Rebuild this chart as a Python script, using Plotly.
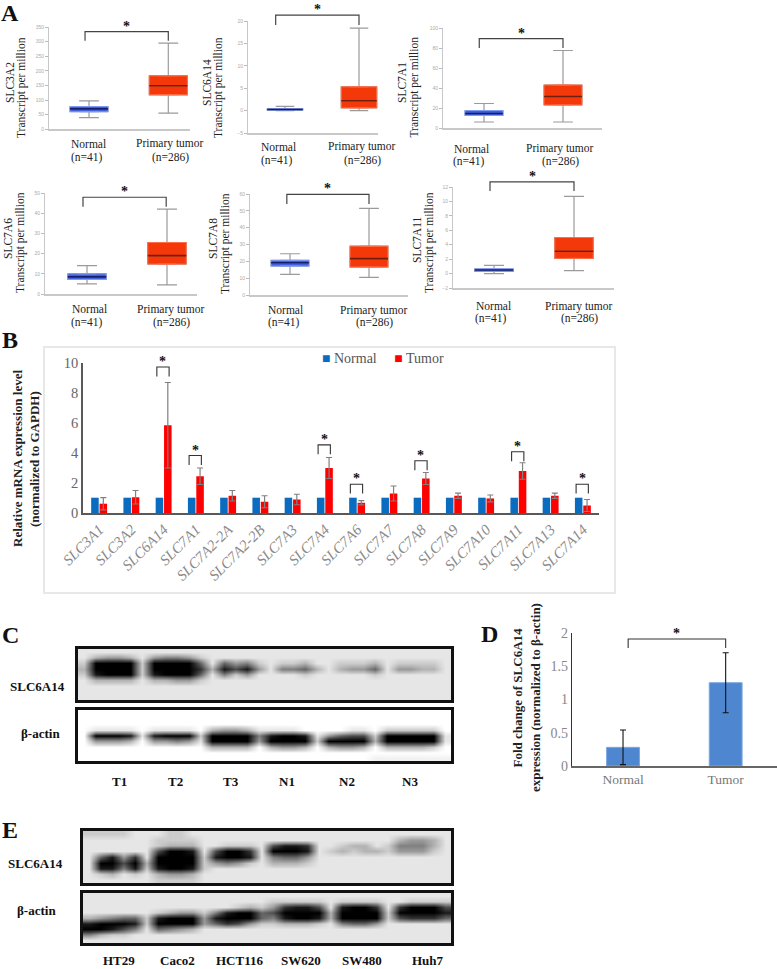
import plotly.graph_objects as go

W, H = 777, 969
SERIF = "Liberation Serif"

# ---------- Panel A data: [lower whisker, q1, median, q3, upper whisker] ----------
SLC3A2_NORMAL = [40, 60, 70, 78, 97]
SLC3A2_TUMOR = [55, 118, 149, 183, 295]
SLC6A14_NORMAL = [0.0, 0.12, 0.25, 0.4, 0.95]
SLC6A14_TUMOR = [0.0, 0.6, 2.2, 5.3, 18.4]
SLC7A1_NORMAL = [6, 12.5, 14.5, 17.5, 24.5]
SLC7A1_TUMOR = [6, 23, 31.5, 43, 77.5]
SLC7A6_NORMAL = [5, 7.2, 8.5, 10, 14]
SLC7A6_TUMOR = [4.5, 14.8, 19, 25.5, 42]
SLC7A8_NORMAL = [12.3, 17.2, 19.2, 20.6, 24.5]
SLC7A8_TUMOR = [10.5, 16.6, 21.6, 29, 51.5]
SLC7A11_NORMAL = [0.0, 0.3, 0.5, 0.65, 1.15]
SLC7A11_TUMOR = [0.4, 2.1, 3.1, 5.0, 10.7]
A_TICKS = {
    "SLC3A2": [0, 50, 100, 150, 200, 250, 300, 350],
    "SLC6A14": [-5, 0, 5, 10, 15, 20],
    "SLC7A1": [0, 20, 40, 60, 80, 100],
    "SLC7A6": [0, 10, 20, 30, 40, 50],
    "SLC7A8": [0, 10, 20, 30, 40, 50, 60],
    "SLC7A11": [-2, 0, 2, 4, 6, 8, 10, 12],
}
# bracket [x start, x end, foot value, top value]
A_BRACKETS = {
    "SLC3A2": [-0.05, 1.0, 303, 334],
    "SLC6A14": [-0.126, 1.0, 19.1, 21.3],
    "SLC7A1": [-0.06, 1.0, 80, 89.3],
    "SLC7A6": [-0.05, 0.99, 43.2, 47.9],
    "SLC7A8": [-0.04, 1.0, 54, 59.8],
    "SLC7A11": [-0.05, 1.0, 11.45, 12.7],
}
GROUP_NORMAL = ["Normal", "(n=41)"]
GROUP_TUMOR = ["Primary tumor", "(n=286)"]
A_YLABEL = "Transcript per million"

# ---------- Panel B data ----------
GENES = ["SLC3A1", "SLC3A2", "SLC6A14", "SLC7A1", "SLC7A2-2A", "SLC7A2-2B", "SLC7A3", "SLC7A4",
         "SLC7A6", "SLC7A7", "SLC7A8", "SLC7A9", "SLC7A10", "SLC7A11", "SLC7A13", "SLC7A14"]
B_NORMAL = [1.02] * 16
B_TUMOR = [0.62, 1.05, 5.85, 2.45, 1.15, 0.75, 0.9, 3.0, 0.68, 1.3, 2.3, 1.15, 0.97, 2.8, 1.15, 0.5]
B_TUMOR_ERR = [0.41, 0.45, 2.85, 0.55, 0.35, 0.4, 0.35, 0.7, 0.14, 0.5, 0.4, 0.18, 0.23, 0.55, 0.18, 0.4]
B_SIG = [2, 3, 7, 8, 10, 13, 15]
B_SIG_TOP = [9.73, 3.83, 4.54, 1.92, 3.48, 4.08, 1.92]

# ---------- Panel D data ----------
D_GROUPS = ["Normal", "Tumor"]
D_VALUES = [0.28, 1.25]
D_ERR = [0.26, 0.45]
D_BRACKET = [0.05, 1.0, 1.77, 1.905]

# ---------- Blot densitometry (0 = white, 10 = black) ----------
BLOT_C_TARGET = [
    [1,1,1,1,1,1,1,1,1,1,1,1,1,1,1,1,1,1,1,1,1,1,1,1,1,1,1,1,1,1,1,1],
    [1,3,4,4,3,1,4,5,5,4,2,1,1,1,1,1,1,1,1,1,1,1,1,1,1,1,1,1,1,1,1,1],
    [2,10,10,10,10,2,10,10,10,10,6,1,6,4,5,2,1,2,2,3,1,1,2,2,2,3,1,2,2,2,2,1],
    [3,10,10,10,10,2,10,10,10,10,8,3,9,7,9,4,1,5,5,6,3,1,3,4,4,6,1,4,4,3,3,1],
    [2,9,10,10,10,2,9,10,10,10,6,1,5,2,4,1,1,1,1,2,1,1,1,1,1,2,1,1,1,1,1,1],
    [1,3,3,3,3,1,3,3,4,4,2,1,1,1,1,1,1,1,1,1,1,1,1,1,1,1,1,1,1,1,1,1],
    [1,1,1,1,1,1,1,1,1,1,1,1,1,1,1,1,1,1,1,1,1,1,1,1,1,1,1,1,1,1,1,1],
    [1,1,1,1,1,1,1,1,1,1,1,1,1,1,1,1,1,1,1,1,1,1,1,1,1,1,1,1,1,1,1,1],
    [1,1,1,1,1,1,1,1,1,1,1,1,1,1,1,1,1,1,1,1,1,1,1,1,1,1,1,1,1,1,1,1],
]
BLOT_C_ACTIN = [
    [0,0,0,0,0,0,0,0,0,0,0,0,0,0,0,0,0,0,0,0,0,0,0,0,0,0,0,0,0,0,0,0],
    [0,0,0,0,0,0,0,0,0,0,0,0,0,0,0,0,0,0,0,0,0,0,0,0,0,0,0,0,0,0,0,0],
    [0,0,0,0,0,0,0,0,0,0,0,0,0,0,0,0,0,0,0,0,0,0,0,0,0,0,0,0,0,0,0,0],
    [0,1,1,1,1,0,1,1,1,1,0,3,4,4,3,1,1,1,1,0,0,0,0,1,1,0,2,2,2,2,2,0],
    [0,10,10,10,9,1,9,10,10,10,2,10,10,10,10,5,9,10,10,9,1,4,6,7,7,2,10,10,10,10,10,1],
    [0,4,4,4,3,0,4,4,5,4,1,10,10,10,10,4,10,10,10,10,2,10,10,10,10,3,10,10,10,10,10,1],
    [0,0,0,0,0,0,0,0,0,0,0,3,3,3,3,0,3,4,4,3,0,3,4,4,3,0,3,3,3,3,2,0],
    [0,0,0,0,0,0,0,0,0,0,0,0,0,0,0,0,0,0,0,0,0,0,0,0,0,0,0,0,0,0,0,0],
    [0,0,0,0,0,0,0,0,0,0,0,0,0,0,0,0,0,0,0,0,0,0,0,0,0,0.5,0.5,0.5,0.5,0.5,0.5,0.5],
]
BLOT_E_TARGET = [
    [2,2,2,2,1,1,1,2,2,1,1,1,1,1,1,1,1,1,1,1,1,1,1,1,1,1,1,1,1,1,1,1],
    [1,1,1,1,1,1,2,2,2,2,1,1,1,1,1,1,1,1,1,1,1,1,1,1,1,1,1,3,4,4,3,1],
    [1,1,1,1,1,1,2,3,3,3,1,1,2,2,2,1,7,9,9,8,1,1,2,3,3,1,2,5,5,5,3,1],
    [1,1,1,1,1,1,7,10,10,9,1,7,10,10,8,1,10,10,10,9,1,2,3,2,3,3,2,4,4,4,2,1],
    [1,6,9,4,8,1,10,10,10,10,2,9,10,10,9,1,5,6,6,4,1,1,1,1,1,1,1,1,1,1,1,1],
    [1,10,10,7,10,3,10,10,10,10,2,4,5,4,2,1,3,3,3,2,1,1,1,1,1,1,1,1,1,1,1,1],
    [1,9,9,5,9,2,9,10,10,9,2,1,1,1,1,1,1,1,1,1,1,1,1,1,1,1,1,1,1,1,1,1],
    [1,2,3,1,2,1,3,4,4,3,1,1,1,1,1,1,1,1,1,1,1,1,1,1,1,1,1,1,1,1,1,1],
    [1,1,1,1,1,1,2,2,2,2,1,1,1,1,1,1,1,1,1,1,1,1,1,1,1,1,1,1,1,1,1,1],
]
BLOT_E_ACTIN = [
    [1,1,1,1,1,1,1,1,1,1,1,1,1,1,1,1,1,1,1,1,1,1,1,1,1,1,1,1,1,1,1,1],
    [1,1,1,1,1,1,1,1,1,1,1,1,1,1,1,1,2,2,2,2,2,1,2,2,2,2,1,1,2,2,2,2],
    [1,1,1,1,1,1,1,1,1,1,1,1,1,2,3,2,4,8,9,9,7,1,9,10,10,8,1,8,10,10,10,7],
    [1,1,1,1,1,1,2,3,4,4,2,5,9,10,10,6,7,10,10,10,10,3,10,10,10,10,2,10,10,10,10,9],
    [3,4,5,6,6,2,9,10,10,10,4,9,10,10,10,6,5,9,10,10,9,3,10,10,10,10,2,7,8,8,8,6],
    [9,10,10,10,9,2,10,10,10,10,4,6,8,7,4,2,2,3,3,3,2,1,5,6,6,4,1,1,1,1,1,1],
    [10,10,9,7,5,1,6,5,4,3,1,1,1,1,1,1,1,1,1,1,1,1,1,1,1,1,1,1,1,1,1,1],
    [5,3,2,2,1,1,1,1,1,1,1,1,1,1,1,1,1,1,1,1,1,1,1,1,1,1,1,1,1,1,1,1],
    [1,1,1,1,1,1,1,1,1,1,1,1,1,1,1,1,1,1,1,1,1,1,1,1,1,1,1,1,1,1,1,1],
]
LANES_C = ["T1", "T2", "T3", "N1", "N2", "N3"]
LANES_E = ["HT29", "Caco2", "HCT116", "SW620", "SW480", "Huh7"]
ROW_TARGET = "SLC6A14"
ROW_ACTIN = "β-actin"

# ---------- Layout geometry (pixels in the 777x969 page) ----------
def xp(x): return x / W
def yp(y): return 1 - y / H

fig = go.Figure()
layout = {}
annots = []
shapes = []
axis_no = [0]

def new_axes(left, right, top, bottom, xa, ya):
    axis_no[0] += 1
    k = axis_no[0]
    sfx = "" if k == 1 else str(k)
    xa.update(domain=[xp(left), xp(right)], anchor="y" + sfx, automargin=False)
    ya.update(domain=[yp(bottom), yp(top)], anchor="x" + sfx, automargin=False)
    layout["xaxis" + sfx] = xa
    layout["yaxis" + sfx] = ya
    return "x" + sfx, "y" + sfx

def label(text, x, y, size=11, color="#222", bold=False, angle=0, italic=False):
    annots.append(dict(text=("<b>%s</b>" % text) if bold else text, x=xp(x), y=yp(y), xref="paper", yref="paper",
                       xanchor="center", yanchor="middle", showarrow=False, textangle=angle,
                       font=dict(family=SERIF, size=size, color=color)))

def bracket(xr, yr, x0, x1, foot, top, color="#333", width=1.1, star_x=None):
    fig.add_trace(go.Scatter(x=[x0, x0, x1, x1], y=[foot, top, top, foot], mode="lines",
                             line=dict(color=color, width=width), xaxis=xr, yaxis=yr,
                             cliponaxis=False, showlegend=False, hoverinfo="skip"))
    annots.append(dict(text="<b>*</b>", x=(x0 + x1) / 2 if star_x is None else star_x, y=top,
                       xref=xr, yref=yr, xanchor="center", yanchor="middle", yshift=5.5,
                       showarrow=False, font=dict(family=SERIF, size=14, color="#111")))

NORMAL_FILL, NORMAL_EDGE, NORMAL_MED = "#4260d8", "#7f9af5", "#14206e"
TUMOR_FILL, TUMOR_EDGE, TUMOR_MED = "#f4380a", "#ff6e4a", "#6e2010"
BOX_W = 0.48

def box_panel(name, normal, tumor, geo):
    l, r, t, b, n, tc = geo["axis"]
    ticks = A_TICKS[name]
    x_range = [(l - n) / (tc - n), (r - n) / (tc - n)]
    xa = dict(range=x_range, showticklabels=False, ticks="",
              showline=True, linecolor="#c8c8c8", linewidth=1.5, showgrid=False, zeroline=False, fixedrange=True)
    ya = dict(range=[ticks[0], ticks[-1]], tickvals=ticks, ticks="outside", ticklen=3, tickcolor="#bbb",
              showline=True, linecolor="#c8c8c8", linewidth=1, showgrid=False, zeroline=False,
              tickfont=dict(family="Liberation Sans", size=5, color="#aaa"), fixedrange=True)
    xr, yr = new_axes(l, r, t, b, xa, ya)
    for pos, q, fill, edge, med in ((0, normal, NORMAL_FILL, NORMAL_EDGE, NORMAL_MED),
                                    (1, tumor, TUMOR_FILL, TUMOR_EDGE, TUMOR_MED)):
        fig.add_trace(go.Box(x=[pos], lowerfence=[q[0]], q1=[q[1]], median=[q[2]], q3=[q[3]], upperfence=[q[4]],
                             width=BOX_W, whiskerwidth=0.52, fillcolor=fill, line=dict(color="#9a9a9a", width=1.2),
                             xaxis=xr, yaxis=yr, showlegend=False, hoverinfo="skip"))
        fig.add_trace(go.Box(x=[pos], lowerfence=[q[1]], q1=[q[1]], median=[q[2]], q3=[q[3]], upperfence=[q[3]],
                             width=BOX_W, fillcolor=fill, line=dict(color=edge, width=1),
                             xaxis=xr, yaxis=yr, showlegend=False, hoverinfo="skip"))
        fig.add_trace(go.Scatter(x=[pos - BOX_W / 2, pos + BOX_W / 2], y=[q[2], q[2]], mode="lines",
                                 line=dict(color=med, width=1.6), xaxis=xr, yaxis=yr,
                                 showlegend=False, hoverinfo="skip"))
    # the brackets rise above the value axis, so they sit on an invisible axis pair with the same scale and more headroom
    extra = min(t - 1, 20)
    span = ticks[-1] - ticks[0]
    xr2, yr2 = new_axes(l, r, t - extra, b,
                        dict(range=x_range, visible=False, fixedrange=True),
                        dict(range=[ticks[0], ticks[-1] + extra * span / (b - t)], visible=False, fixedrange=True))
    x0, x1, foot, top = A_BRACKETS[name]
    bracket(xr2, yr2, x0, x1, foot, top, color="#444", width=1.2)
    for txt, (cx, cy) in zip(GROUP_NORMAL + GROUP_TUMOR, geo["labels"]):
        label(txt, cx, cy, size=11.5, color="#222")
    label(name, geo["title_x"][0], geo["title_y"][0], size=11.5, angle=-90)
    label(A_YLABEL, geo["title_x"][1], geo["title_y"][1], size=11.5, angle=-90)

box_panel("SLC3A2", SLC3A2_NORMAL, SLC3A2_TUMOR, dict(
    axis=(49, 190, 27, 129.3, 89, 168.3),
    labels=[(88.5, 144), (87, 157), (170, 144), (170, 157)], title_x=(10, 22), title_y=(83, 88)))
box_panel("SLC6A14", SLC6A14_NORMAL, SLC6A14_TUMOR, dict(
    axis=(248, 378, 21, 133, 285, 359),
    labels=[(278, 147), (277, 160), (362, 147), (362, 160)], title_x=(207, 219), title_y=(83, 88)))
box_panel("SLC7A1", SLC7A1_NORMAL, SLC7A1_TUMOR, dict(
    axis=(443, 602, 28, 128, 484, 563),
    labels=[(471, 149), (469, 161), (560, 149), (560, 161)], title_x=(402, 414), title_y=(83, 87.5)))
box_panel("SLC7A6", SLC7A6_NORMAL, SLC7A6_TUMOR, dict(
    axis=(45, 197, 193, 294, 87, 167),
    labels=[(89, 309), (87, 322), (171, 309), (171, 322)], title_x=(8, 20), title_y=(239, 243)))
box_panel("SLC7A8", SLC7A8_NORMAL, SLC7A8_TUMOR, dict(
    axis=(250, 408, 194, 295, 290, 369),
    labels=[(285, 310), (283.5, 322), (374, 310), (374, 322)], title_x=(213, 225), title_y=(239, 243)))
box_panel("SLC7A11", SLC7A11_NORMAL, SLC7A11_TUMOR, dict(
    axis=(453, 614, 187, 288, 494, 574),
    labels=[(493, 306), (491, 318), (579, 306), (579, 318)], title_x=(417, 429), title_y=(240, 243)))

# ---------- Panel B ----------
shapes.append(dict(type="rect", xref="paper", yref="paper", x0=xp(44), x1=xp(615), y0=yp(593), y1=yp(347),
                   line=dict(color="#e8e8e8", width=2), fillcolor="rgba(0,0,0,0)", layer="below"))
xr, yr = new_axes(83, 599, 363, 513,
    dict(range=[-0.5, 15.5], tickvals=list(range(16)), ticktext=GENES, tickangle=-45, ticks="", showgrid=False,
         zeroline=False, showline=True, linecolor="#595959", linewidth=2, fixedrange=True,
         tickfont=dict(family=SERIF, size=15, color="#8a8a8a", style="italic")),
    dict(range=[0, 10], tickvals=[0, 2, 4, 6, 8, 10], ticks="", showgrid=False, zeroline=False, showline=True,
         linecolor="#595959", linewidth=1.5, fixedrange=True, tickfont=dict(family=SERIF, size=14.5, color="#666")))
fig.add_trace(go.Bar(x=list(range(16)), y=B_NORMAL, name="Normal", marker_color="#0a6cc0", xaxis=xr, yaxis=yr,
                     offsetgroup="n", showlegend=False, hoverinfo="skip"))
fig.add_trace(go.Bar(x=list(range(16)), y=B_TUMOR, name="Tumor", marker_color="#ff0000", xaxis=xr, yaxis=yr,
                     offsetgroup="t", showlegend=False, hoverinfo="skip",
                     error_y=dict(type="data", array=B_TUMOR_ERR, color="#808080", thickness=1.2, width=3)))
for i, top in zip(B_SIG, B_SIG_TOP):
    bracket(xr, yr, i - 0.21, i + 0.17, top - 0.625, top, color="#333", width=1.1, star_x=i - 0.02)
label("<span style='color:#0a6cc0'>■</span> Normal &nbsp; &nbsp; <span style='color:#ff0000'>■</span> Tumor",
      383, 358, size=14, color="#555")
label("Relative mRNA expression level", 18, 459, size=13, bold=True, angle=-90)
label("(normalized to GAPDH)", 35, 459, size=13, bold=True, angle=-90)

# ---------- Panel D ----------
xr, yr = new_axes(571.7, 777, 632.7, 766,
    dict(range=[-0.5, 1.5], tickvals=[0, 1], ticktext=D_GROUPS, ticks="", showgrid=False, zeroline=False,
         showline=True, linecolor="#666", linewidth=1.5, fixedrange=True,
         tickfont=dict(family=SERIF, size=13.5, color="#777")),
    dict(range=[0, 2], tickvals=[0, 0.5, 1, 1.5, 2], ticktext=["0", "0.5", "1", "1.5", "2"], ticks="", showgrid=False,
         zeroline=False, showline=True, linecolor="#333", linewidth=1, fixedrange=True,
         tickfont=dict(family=SERIF, size=14, color="#888")))
fig.add_trace(go.Bar(x=[0, 1], y=D_VALUES, marker=dict(color="#4f86d0", line=dict(color="#7aa6e2", width=1)),
                     width=0.32, xaxis=xr, yaxis=yr, showlegend=False, hoverinfo="skip",
                     error_y=dict(type="data", array=D_ERR, color="#111", thickness=1.1, width=3)))
bracket(xr, yr, *D_BRACKET, color="#333", width=1.1, star_x=0.525)
label("Fold change of SLC6A14", 517, 697.5, size=13, bold=True, angle=-90)
label("expression (normalized to β-actin)", 535, 698, size=13, bold=True, angle=-90)

# ---------- Panels C and E (blots) ----------
def blot(z, left, right, top, bottom):
    ax = dict(showticklabels=False, ticks="", showgrid=False, zeroline=False, showline=True, mirror=True,
              linecolor="#111", linewidth=2.5, fixedrange=True)
    xr, yr = new_axes(left, right, top, bottom,
                      dict(ax, range=[-0.5, len(z[0]) - 0.5]), dict(ax, range=[len(z) - 0.5, -0.5]))
    fig.add_trace(go.Heatmap(z=z, zmin=0, zmax=10, colorscale=[[0, "#ffffff"], [1, "#000000"]], showscale=False,
                             zsmooth="best", xaxis=xr, yaxis=yr, hoverinfo="skip"))

blot(BLOT_C_TARGET, 78, 451, 649, 700)
blot(BLOT_C_ACTIN, 78, 451, 710, 761)
blot(BLOT_E_TARGET, 83, 451, 831, 883)
blot(BLOT_E_ACTIN, 83, 451, 893, 943)

label(ROW_TARGET, 37.5, 686, size=13, bold=True, color="#111")
label(ROW_ACTIN, 40, 733, size=13, bold=True, color="#111")
label(ROW_TARGET, 35, 863, size=13, bold=True, color="#111")
label(ROW_ACTIN, 36.5, 910, size=13, bold=True, color="#111")
for txt, cx in zip(LANES_C, (119.4, 175, 231, 287, 347, 410)):
    label(txt, cx, 781, size=13, bold=True, color="#111")
for txt, cx in zip(LANES_E, (119, 177, 239, 301, 362, 428)):
    label(txt, cx, 960, size=13, bold=True, color="#111")

# ---------- Panel letters ----------
for txt, cx, cy in (("A", 10, 12.5), ("B", 10, 340), ("C", 10, 635), ("D", 489, 634), ("E", 10, 830)):
    label(txt, cx, cy, size=24, bold=True, color="#111")

layout.update(width=W, height=H, margin=dict(l=0, r=0, t=0, b=0, autoexpand=False), paper_bgcolor="white",
              plot_bgcolor="rgba(0,0,0,0)", template="none",
              barmode="group", bargap=0.48, bargroupgap=0.1, boxmode="overlay", annotations=annots, shapes=shapes,
              showlegend=False, font=dict(family=SERIF))
fig.update_layout(layout)
fig.write_html("out.html", config=dict(displayModeBar=False),
               post_script="document.body.style.margin='0';document.documentElement.style.overflow='hidden';")
